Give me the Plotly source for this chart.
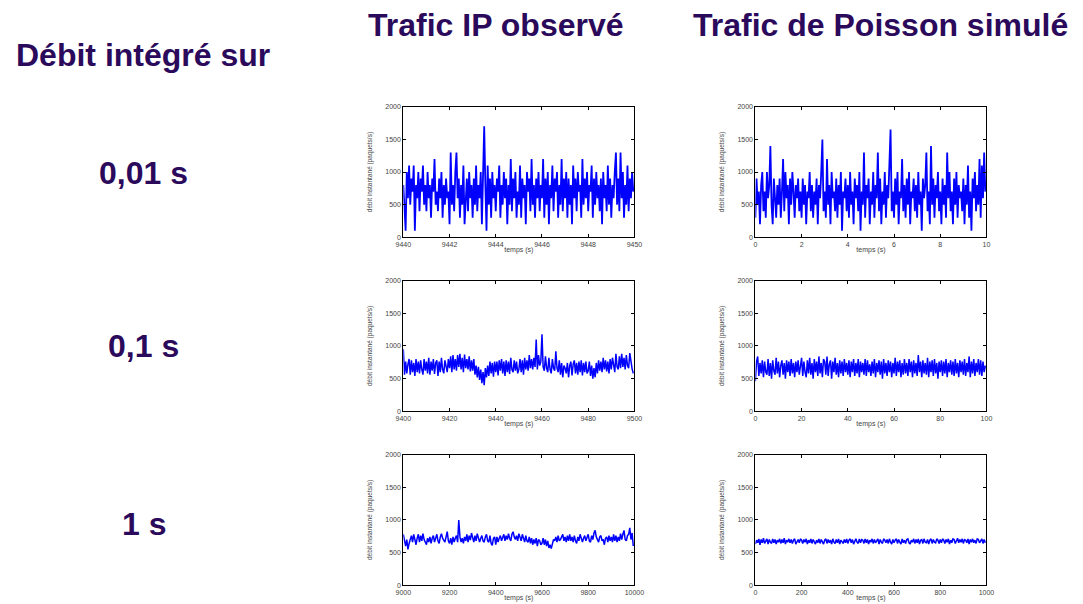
import plotly.graph_objects as go

# ---------------- data ----------------
row_labels = ["0,01 s", "0,1 s", "1 s"]
col_titles = ["Trafic IP observé", "Trafic de Poisson simulé"]
left_title = "Débit intégré sur"
y_ticks = [0, 500, 1000, 1500, 2000]

# x start / step / tick values for each panel
obs_x0 = [9440, 9400, 9000]
obs_dx = [0.05, 0.5, 5]
obs_ticks = [[9440, 9442, 9444, 9446, 9448, 9450],
             [9400, 9420, 9440, 9460, 9480, 9500],
             [9000, 9200, 9400, 9600, 9800, 10000]]
sim_x0 = [0, 0, 0]
sim_dx = [0.05, 0.5, 5]
sim_ticks = [[0, 2, 4, 6, 8, 10],
             [0, 20, 40, 60, 80, 100],
             [0, 200, 400, 600, 800, 1000]]

obs_001 = [
    800,300,100,1000,600,1100,500,900,700,1100,100,800,600,1000,400,900,700,1100,500,800,
    400,1000,600,800,300,900,700,1200,500,700,400,900,600,1000,300,800,500,900,600,700,
    200,1300,500,800,400,1000,1300,600,900,300,800,500,1100,200,700,900,400,1000,600,800,
    300,900,500,1100,400,800,600,1000,200,1100,1700,800,100,1100,500,900,300,1000,600,800,
    400,900,700,1100,300,800,500,1000,600,900,200,800,500,1200,400,900,600,1000,300,700,
    500,1100,300,900,600,800,200,1000,700,900,400,1200,500,800,300,900,600,1000,400,800,
    600,1200,300,900,500,1000,200,800,600,1100,400,900,700,1000,300,800,500,1200,400,900,
    600,1000,300,900,500,800,200,1100,600,900,400,1000,700,800,300,1200,500,900,600,1000,
    400,800,700,1100,300,900,500,1000,600,800,400,900,200,1000,600,800,400,1100,500,900,
    300,800,600,1000,1300,500,900,400,1300,600,1000,300,800,500,1100,400,900,600,1000,700,
]
sim_001 = [
    300,900,500,700,200,800,1000,400,700,300,1000,600,800,1400,500,200,900,600,300,800,
    500,900,300,700,1200,400,1000,600,800,200,900,500,1000,700,300,800,600,900,400,700,
    300,900,500,800,200,700,600,1000,400,800,300,700,500,900,200,800,600,1000,1500,400,
    700,300,1200,500,800,200,1000,600,700,400,900,300,800,500,1000,100,700,600,900,400,
    800,300,1000,500,700,200,900,600,800,400,1000,100,700,500,1300,300,800,600,900,200,
    700,500,1000,300,800,600,1300,400,900,200,700,500,1000,300,800,600,1200,1650,400,700,
    300,900,500,1000,200,700,600,1200,400,800,300,900,500,1000,200,700,600,900,400,800,
    300,1000,500,700,100,900,600,800,1300,400,700,200,1400,500,900,300,800,600,1000,400,
    700,200,900,500,800,300,1300,600,1000,400,700,200,900,500,1000,300,800,600,700,400,
    900,200,800,500,1100,300,700,100,900,600,1000,400,800,500,1200,300,1100,600,1300,700,
]
obs_01 = [
    950,560,760,580,720,800,560,780,600,740,540,800,600,760,580,780,640,560,800,620,
    760,580,820,560,760,620,800,570,740,780,540,760,600,820,640,580,780,650,600,800,
    660,840,600,860,640,800,620,860,680,880,640,820,600,870,660,800,640,840,610,780,
    620,800,560,700,520,680,480,640,430,600,400,660,520,700,540,760,580,740,530,760,
    600,760,550,780,620,800,580,760,540,780,600,760,570,820,640,600,780,620,760,580,
    640,800,600,780,560,820,640,780,620,860,660,800,640,820,680,1100,640,860,700,760,
    1180,680,620,840,660,600,820,640,580,800,660,620,920,660,600,780,560,740,520,700,
    660,580,740,520,700,760,550,720,780,580,740,560,760,600,780,550,740,600,760,580,
    620,760,540,700,500,660,520,740,580,780,620,760,600,820,640,780,610,760,580,800,
    640,820,660,600,880,680,640,840,660,880,680,820,640,860,700,660,890,720,650,580,
]
sim_01 = [
    460,760,840,540,740,580,780,520,760,600,560,800,540,740,500,780,620,560,820,580,
    760,520,700,780,560,740,500,780,600,760,540,800,580,740,520,760,600,780,560,720,
    820,540,760,600,520,780,580,820,560,740,500,800,600,760,540,840,580,740,520,800,
    760,560,840,540,720,780,500,760,600,820,560,740,520,780,580,760,540,800,600,740,
    560,780,520,760,600,800,540,740,580,800,520,760,600,740,560,800,540,780,600,720,
    540,760,580,800,520,740,600,780,560,760,500,800,580,740,540,780,600,760,520,740,
    580,820,540,760,600,780,520,740,560,800,580,740,540,800,600,760,520,780,580,740,
    540,860,600,760,520,780,580,740,560,820,520,760,600,780,540,800,580,740,500,760,
    600,780,540,760,580,800,520,740,600,780,560,760,540,800,580,740,520,780,600,760,
    560,800,540,740,600,840,520,760,580,800,540,740,600,800,560,780,540,760,600,700,
]
obs_1 = [
    780,680,600,700,550,640,720,760,660,780,700,620,720,780,660,760,680,790,700,640,
    620,720,660,740,640,720,760,660,740,780,680,640,740,790,720,680,660,740,820,680,
    640,720,620,740,660,720,760,660,1000,740,660,720,640,740,680,780,660,760,690,800,
    700,660,760,680,790,700,660,720,760,680,660,740,780,680,660,760,640,610,720,740,
    620,740,660,720,760,680,740,780,680,760,700,790,720,680,780,820,740,700,760,680,
    790,720,680,780,700,660,760,680,660,740,640,720,620,700,640,720,600,700,680,620,
    640,720,620,700,600,680,570,620,560,660,700,680,740,660,760,680,700,740,780,680,
    740,660,760,680,780,680,740,660,760,680,640,740,680,780,700,660,720,760,680,740,
    780,680,660,760,700,800,840,740,680,660,740,760,680,700,620,720,740,660,760,680,
    740,660,780,680,760,660,740,680,790,700,780,840,700,680,760,780,880,700,800,600,
]
sim_1 = [
    630,690,650,710,620,700,650,720,640,690,710,630,700,660,640,710,650,700,630,690,
    660,710,640,700,650,720,630,690,660,710,650,700,640,690,710,630,660,700,650,710,
    690,640,700,660,710,630,690,650,710,640,700,660,630,690,650,710,640,700,660,630,
    690,710,640,700,650,690,630,710,660,640,700,650,710,630,690,660,640,700,650,710,
    640,690,710,650,700,630,690,710,660,640,710,650,700,690,640,710,650,700,630,690,
    660,710,640,700,650,690,710,630,700,660,640,710,690,650,700,640,710,660,630,700,
    650,690,710,640,700,660,630,710,650,690,640,700,710,650,630,690,660,710,640,700,
    650,710,630,690,700,640,710,660,650,700,630,690,710,640,700,660,650,710,690,640,
    700,650,710,690,640,700,660,710,630,690,650,710,700,640,690,720,650,700,660,710,
    640,700,690,650,710,630,700,660,710,650,690,640,710,700,650,690,710,640,700,650,
]

obs_series = [obs_001, obs_01, obs_1]
sim_series = [sim_001, sim_01, sim_1]

# ---------------- layout ----------------
W, H = 1083, 604
col_px = [(402, 637), (760, 995)]
row_px = [(104, 236), (280, 412), (456, 588)]
line_w = [1.8, 1.5, 1.5]
TXT = "#2b0a5c"


def px_x(p):
    return p / W


def px_y(p):
    return 1 - p / H


fig = go.Figure()
layout = dict(
    width=W, height=H, margin=dict(l=0, r=0, t=0, b=0),
    paper_bgcolor="white", plot_bgcolor="white", showlegend=False,
    font=dict(family="Liberation Sans, Arial, sans-serif"),
)

idx = 0
for r in range(3):
    for c in range(2):
        idx += 1
        xa = "x" if idx == 1 else f"x{idx}"
        ya = "y" if idx == 1 else f"y{idx}"
        if c == 0:
            ys, x0, dx, tv = obs_series[r], obs_x0[r], obs_dx[r], obs_ticks[r]
        else:
            ys, x0, dx, tv = sim_series[r], sim_x0[r], sim_dx[r], sim_ticks[r]
        fig.add_trace(go.Scatter(
            y=ys, x0=x0, dx=dx, mode="lines",
            line=dict(color="#0000ff", width=line_w[r]),
            xaxis=xa, yaxis=ya, hoverinfo="skip"))
        xl, xr = col_px[c]
        yt, yb = row_px[r]
        common = dict(showline=True, linecolor="black", linewidth=1, mirror="ticks",
                      ticks="inside", ticklen=3, tickcolor="black", showgrid=False,
                      zeroline=False, tickfont=dict(size=7, color="#444"))
        layout["xaxis" if idx == 1 else f"xaxis{idx}"] = dict(
            domain=[px_x(xl), px_x(xr)], anchor=ya,
            range=[tv[0], tv[-1]], tickvals=tv, ticktext=[str(t) for t in tv],
            title=dict(text="temps (s)", font=dict(size=7, color="#444"), standoff=0),
            **common)
        layout["yaxis" if idx == 1 else f"yaxis{idx}"] = dict(
            domain=[px_y(yb), px_y(yt)], anchor=xa,
            range=[0, 2000], tickvals=y_ticks, ticktext=[str(t) for t in y_ticks],
            title=dict(text="débit instantané (paquets/s)", font=dict(size=6.5, color="#444"), standoff=12),
            **common)

fig.update_layout(**layout)

big = dict(family="Liberation Sans, Arial, sans-serif", size=32, color=TXT)
ann = []
ann.append(dict(x=px_x(496), y=px_y(21), text=f"<b>{col_titles[0]}</b>"))
ann.append(dict(x=px_x(887), y=px_y(21), text=f"<b>{col_titles[1]}</b>"))
ann.append(dict(x=px_x(137), y=px_y(52), text=f"<b>{left_title}</b>"))
row_y = [171, 346, 526]
for lbl, yy in zip(row_labels, row_y):
    ann.append(dict(x=px_x(138), y=px_y(yy), text=f"<b>{lbl}</b>"))
for a in ann:
    a.update(xref="paper", yref="paper", showarrow=False, xanchor="center",
             yanchor="middle", font=big)
fig.update_layout(annotations=ann)

# remove the default 8px page margin so figure pixels map to page pixels
fig.write_html("out.html", config={"displayModeBar": False},
               post_script="document.body.style.margin='0';")
